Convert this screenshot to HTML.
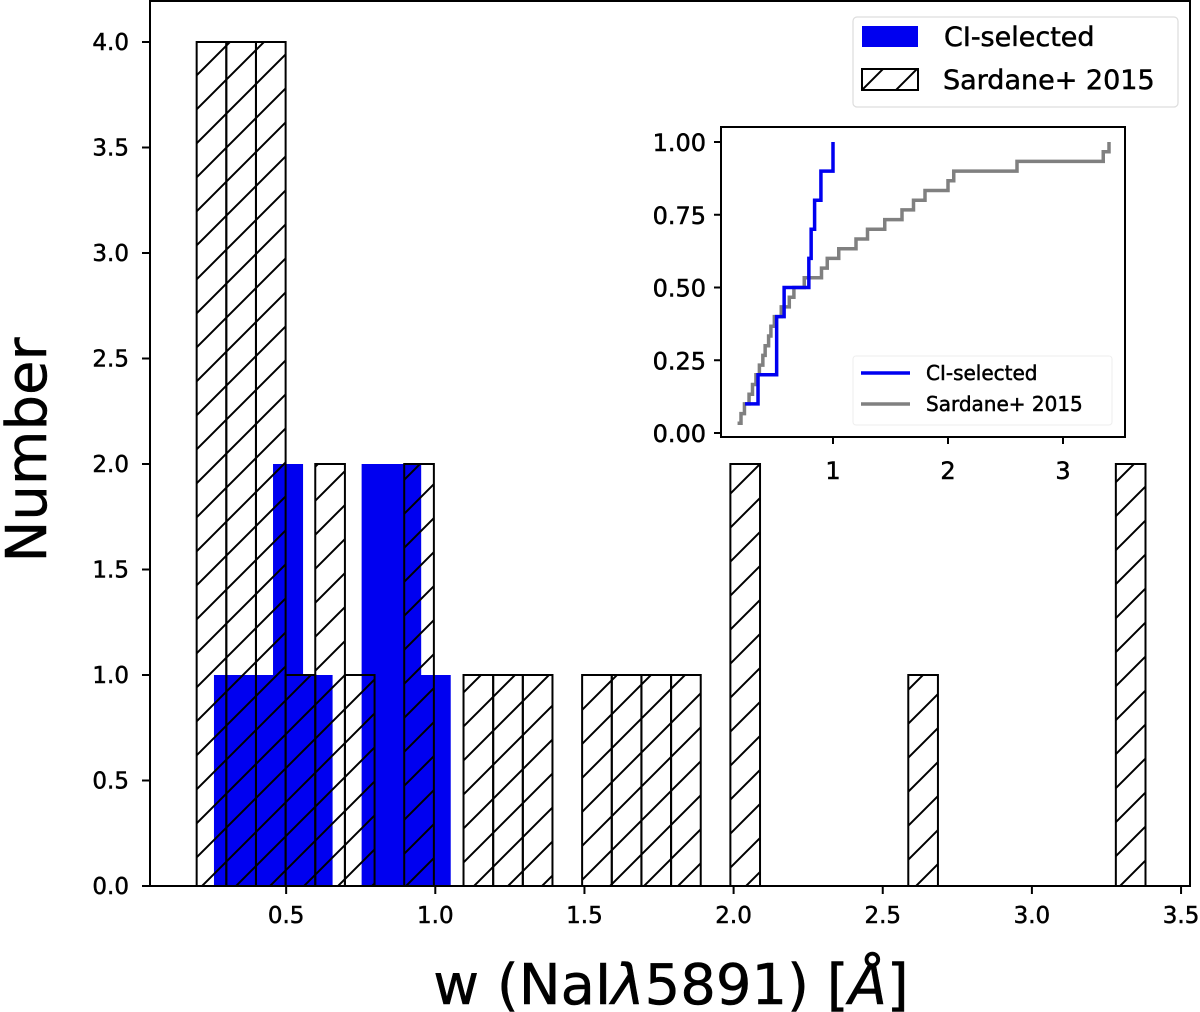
<!DOCTYPE html>
<html><head><meta charset="utf-8"><style>
html,body{margin:0;padding:0;background:#fff;}
svg{display:block;font-family:"DejaVu Sans","Liberation Sans",sans-serif;}
text{stroke:#000;stroke-width:0.5px;}
</style></head><body>
<svg id="chart" width="1200" height="1012" viewBox="0 0 1200 1012">
<defs>
<pattern id="hatch" patternUnits="userSpaceOnUse" width="34" height="34" x="0" y="0">
<path d="M-5,39 L39,-5 M-5,5 L5,-5 M29,39 L39,29" stroke="#000" stroke-width="2" fill="none"/>
</pattern>
</defs>
<g id="main"></g>
<g id="inset"></g>
</svg>
<script>
// main histogram data
const blueStart = 0.258;
const blueWidth = 0.0990;
const blueCounts = [1,1,2,1,0,2,2,1];
const sardStart = 0.200;
const sardWidth = 0.0994;
const sardCounts = [4,4,4,1,2,1,0,2,0,1,1,1,0,1,1,1,1,0,2,0,0,0,0,0,1,0,0,0,0,0,0,2];
const xTicks = [0.5,1.0,1.5,2.0,2.5,3.0,3.5];
const xTickLabels = ["0.5","1.0","1.5","2.0","2.5","3.0","3.5"];
const yTicks = [0,0.5,1,1.5,2,2.5,3,3.5,4];
const yTickLabels = ["0.0","0.5","1.0","1.5","2.0","2.5","3.0","3.5","4.0"];
// inset CDF data
const blueVals = [0.235,0.348,0.51,0.51,0.575,0.79,0.81,0.84,0.895,1.0];
const sardVals = [0.17,0.2,0.23,0.27,0.3,0.33,0.36,0.39,0.41,0.44,0.46,0.49,0.55,0.62,0.66,0.75,0.9,0.95,1.05,1.2,1.3,1.45,1.6,1.7,1.8,2.0,2.05,2.6,3.35,3.4];
const insetXTicks = [1,2,3];
const insetXTickLabels = ["1","2","3"];
const insetYTicks = [0,0.25,0.5,0.75,1.0];
const insetYTickLabels = ["0.00","0.25","0.50","0.75","1.00"];

const NS = "http://www.w3.org/2000/svg";
function mk(parent, tag, attrs, text){
  const e = document.createElementNS(NS, tag);
  for (const k in attrs) e.setAttribute(k, attrs[k]);
  if (text !== undefined) e.textContent = text;
  parent.appendChild(e);
  return e;
}
const X = v => 137 + v*298.3;
const Y = v => 886 - v*211;
const main = document.getElementById('main');

blueCounts.forEach((c,i)=>{
  if(!c) return;
  const x0 = X(blueStart + i*blueWidth), x1 = X(blueStart + (i+1)*blueWidth);
  const r = mk(main,'rect',{x:x0,y:Y(c),width:x1-x0+0.5,height:Y(0)-Y(c),fill:'#0000f0'});
  
  
});
sardCounts.forEach((c,i)=>{
  if(!c) return;
  const x0 = X(sardStart + i*sardWidth), x1 = X(sardStart + (i+1)*sardWidth);
  const r = mk(main,'rect',{x:x0,y:Y(c),width:x1-x0,height:Y(0)-Y(c),fill:'url(#hatch)',stroke:'#000','stroke-width':2});
  
  
});
const fr = mk(main,'rect',{x:150,y:1,width:1040,height:885,fill:'none',stroke:'#000','stroke-width':2});


xTicks.forEach((t,i)=>{
  const x = X(t);
  mk(main,'line',{x1:x,x2:x,y1:886,y2:894,stroke:'#000','stroke-width':2});
  const tx = mk(main,'text',{x:x,y:923,'font-size':23,'text-anchor':'middle'},xTickLabels[i]);
  
  
});
yTicks.forEach((t,i)=>{
  const y = Y(t);
  mk(main,'line',{x1:142,x2:150,y1:y,y2:y,stroke:'#000','stroke-width':2});
  const tx = mk(main,'text',{x:129,y:y+8,'font-size':23,'text-anchor':'end'},yTickLabels[i]);
  
  
});
let t = mk(main,'text',{x:0,y:0,'font-size':56,'text-anchor':'middle',transform:'translate(46,450) rotate(-90)'},'Number');


t = mk(main,'text',{x:671,y:1004,'font-size':56,'text-anchor':'middle'});


t.innerHTML = 'w (NaI<tspan font-style="italic">λ</tspan>5891) [<tspan font-style="italic">Å</tspan>]';
const lg = mk(main,'g',{});


mk(lg,'rect',{x:853,y:17,width:325,height:90,rx:4,fill:'#fff',stroke:'#ddd','stroke-width':1.2});
mk(lg,'rect',{x:862,y:26,width:56,height:21,fill:'#0000f0'});
mk(lg,'text',{x:944,y:46,'font-size':27},'CI-selected');
mk(lg,'rect',{x:862,y:69,width:56,height:21,fill:'url(#hatch)',stroke:'#000','stroke-width':2});
mk(lg,'text',{x:943,y:89,'font-size':27},'Sardane+ 2015');

const ins = document.getElementById('inset');
const IX = v => 718 + v*115;
const IY = v => 433 - v*291;
mk(ins,'rect',{x:721,y:127,width:404,height:310,fill:'#fff',stroke:'#000','stroke-width':2});
function stepPath(vals){
  const n = vals.length;
  let d = 'M'+IX(vals[0])+','+IY(1/n);
  for(let i=1;i<n;i++){
    d += ' H'+IX(vals[i])+' V'+IY((i+1)/n);
  }
  return d;
}
let p = mk(ins,'path',{d:stepPath(sardVals),fill:'none',stroke:'#808080','stroke-width':3.5});


p = mk(ins,'path',{d:stepPath(blueVals),fill:'none',stroke:'#0000f0','stroke-width':3.5});


insetXTicks.forEach((v,i)=>{
  const x = IX(v);
  mk(ins,'line',{x1:x,x2:x,y1:437,y2:444,stroke:'#000','stroke-width':2});
  const tx = mk(ins,'text',{x:x,y:479,'font-size':24,'text-anchor':'middle'},insetXTickLabels[i]);
  
  
});
insetYTicks.forEach((v,i)=>{
  const y = IY(v);
  mk(ins,'line',{x1:714,x2:721,y1:y,y2:y,stroke:'#000','stroke-width':2});
  const tx = mk(ins,'text',{x:706,y:y+9,'font-size':24,'text-anchor':'end'},insetYTickLabels[i]);
  
  
});
const il = mk(ins,'g',{});


mk(il,'rect',{x:853,y:356,width:259,height:69,rx:3,fill:'#fff',stroke:'#eee','stroke-width':1});
mk(il,'line',{x1:861,x2:910,y1:373,y2:373,stroke:'#0000f0','stroke-width':3.5});
mk(il,'text',{x:926,y:380,'font-size':20},'CI-selected');
mk(il,'line',{x1:861,x2:910,y1:404,y2:404,stroke:'#808080','stroke-width':3.5});
mk(il,'text',{x:926,y:411,'font-size':20},'Sardane+ 2015');
</script>
</body></html>
